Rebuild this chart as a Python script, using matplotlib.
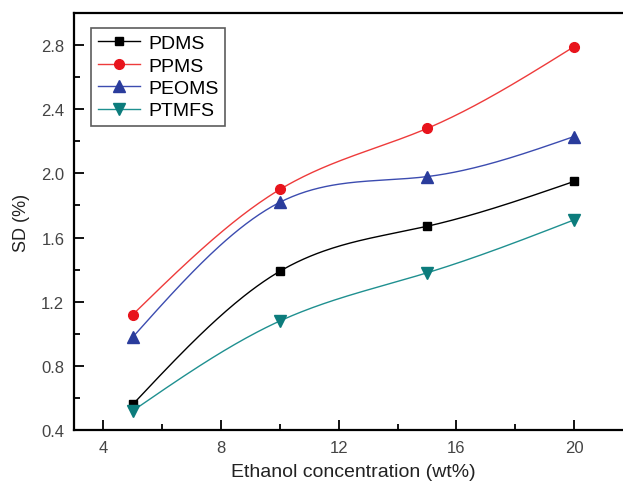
import numpy as np
from matplotlib import pyplot as plt
from matplotlib.ticker import MultipleLocator

plt.rcParams['font.family'] = ['Liberation Sans', 'DejaVu Sans']

# ethanol concentration (wt%)
conc = [5, 10, 15, 20]

# SD (%) for each membrane
pdms = [0.56, 1.39, 1.67, 1.95]
ppms = [1.12, 1.90, 2.28, 2.79]
peoms = [0.98, 1.82, 1.98, 2.23]
ptmfs = [0.52, 1.08, 1.38, 1.71]

names = ["PDMS", "PPMS", "PEOMS", "PTMFS"]


# natural cubic spline, only used to draw the smooth connecting line
def spline(x, y, n=200):
        x = np.asarray(x, float)
        y = np.asarray(y, float)
        k = len(x)
        h = np.diff(x)
        a = np.zeros((k, k))
        b = np.zeros(k)
        a[0, 0] = a[-1, -1] = 1
        for i in range(1, k - 1):
                a[i, i - 1] = h[i - 1]
                a[i, i] = 2 * (h[i - 1] + h[i])
                a[i, i + 1] = h[i]
                b[i] = 3 * ((y[i + 1] - y[i]) / h[i] - (y[i] - y[i - 1]) / h[i - 1])
        c = np.linalg.solve(a, b)
        xs = np.linspace(x[0], x[-1], n)
        ys = np.empty_like(xs)
        for j, xv in enumerate(xs):
                i = min(np.searchsorted(x, xv, side='right') - 1, k - 2)
                d = xv - x[i]
                bb = (y[i + 1] - y[i]) / h[i] - h[i] * (2 * c[i] + c[i + 1]) / 3
                dd = (c[i + 1] - c[i]) / (3 * h[i])
                ys[j] = y[i] + bb * d + c[i] * d ** 2 + dd * d ** 3
        return xs, ys


fig = plt.figure(figsize=(6.23, 4.85), dpi=100)
ax = fig.add_axes([0.1188, 0.1113, 0.897, 0.8598])

series = [
        (pdms, 'black', 'black', 's', 6.3),
        (ppms, '#ee3b3b', '#e8141c', 'o', 7),
        (peoms, '#3c4cb0', '#2a3c9c', '^', 8.5),
        (ptmfs, '#1f9090', '#0c7c7c', 'v', 8.5),
]

for (vals, lc, mc, mk, ms), name in zip(series, names):
        xs, ys = spline(conc, vals)
        ax.plot(xs, ys, color=lc, lw=1.0)
        ax.plot(conc, vals, ls='none', marker=mk, ms=ms, color=mc)
        ax.plot([], [], color=lc, lw=1.0, marker=mk, ms=ms, mfc=mc, mec=mc, label=name)

ax.set_xlim(3, 22)
ax.set_ylim(0.4, 3.0)
ax.xaxis.set_major_locator(MultipleLocator(4))
ax.xaxis.set_minor_locator(MultipleLocator(2))
ax.yaxis.set_major_locator(MultipleLocator(0.4))
ax.yaxis.set_minor_locator(MultipleLocator(0.2))
ax.set_yticks([0.4, 0.8, 1.2, 1.6, 2.0, 2.4, 2.8])
ax.tick_params(which='both', direction='in', top=False, right=False,
               labelsize=12, labelcolor='#444444', pad=7)
ax.tick_params(which='major', length=7, width=1.3)
ax.tick_params(which='minor', length=4, width=1.3)
for s in ax.spines.values():
        s.set_linewidth(1.6)

ax.set_xlabel('Ethanol concentration (wt%)', fontsize=14, color='#222222', labelpad=6)
ax.set_ylabel('SD (%)', fontsize=13, color='#222222', labelpad=8)

leg = ax.legend(loc='upper left', bbox_to_anchor=(0.03, 0.965), fontsize=14,
                frameon=True, fancybox=False, edgecolor='#333333',
                handlelength=2.2, handletextpad=0.4, labelspacing=0.25,
                borderpad=0.35, borderaxespad=0)
leg.get_frame().set_linewidth(1.2)

plt.savefig('out.png', dpi=100)
